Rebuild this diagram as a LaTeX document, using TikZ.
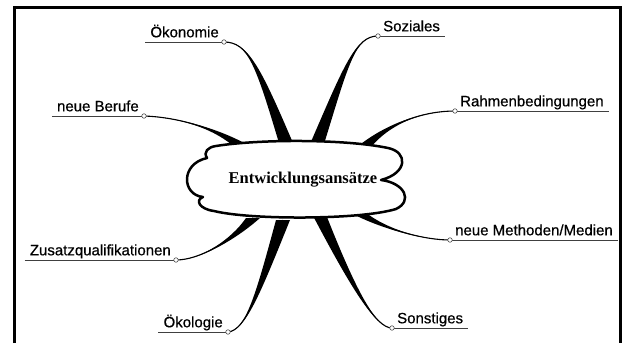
\documentclass[tikz,border=0pt]{standalone}
\usepackage{fontspec}
\setmainfont{Liberation Serif}
\newfontfamily\labfont[FakeBold=0.6]{Liberation Sans}
\usetikzlibrary{calc}
\newcommand\mmbranch[5]{%
  \fill (#1) .. controls (#2) and ($(#3)+(0.3*#5,0)$) .. ($(#4)+(#5,0)$) -- ($(#4)-(#5,0)$) .. controls ($(#3)-(0.3*#5,0)$) and (#2) .. (#1) -- cycle;
  \draw[line width=1.1pt] (#1) .. controls (#2) and (#3) .. (#4);}
\begin{document}
\begin{tikzpicture}[x=1pt,y=-1pt,
  lab/.style={font=\labfont\fontsize{15}{18}\selectfont, inner xsep=5pt, inner ysep=4.5pt, text height=11pt, text depth=0pt},
  uline/.style={line width=1pt, draw=black!75},
  knob/.style={circle, draw=black!70, fill=white, line width=0.6pt, inner sep=0pt, minimum size=4.5pt}]
\useasboundingbox (0,0) rectangle (624,343);
\draw[line width=3pt] (14,343) -- (14,7) -- (620,7) -- (620,343);
% labels
\node[lab, anchor=south east] (oek) at (224,42) {Ökonomie};
\node[lab, anchor=south east] (ber) at (144,116) {neue Berufe};
\node[lab, anchor=south east] (zus) at (176,260) {Zusatzqualifikationen};
\node[lab, anchor=south east] (okl) at (228,332) {Ökologie};
\node[lab, anchor=south west] (soz) at (378,36) {Soziales};
\node[lab, anchor=south west] (rah) at (455,111) {Rahmenbedingungen};
\node[lab, anchor=south west] (met) at (450,240) {neue Methoden/Medien};
\node[lab, anchor=south west] (son) at (392,328) {Sonstiges};
% base points on the cloud
\coordinate (bOek) at (286,143);
\coordinate (bBer) at (240,145);
\coordinate (bZus) at (253,218);
\coordinate (bOkl) at (283,220);
\coordinate (bSoz) at (317,144);
\coordinate (bRah) at (364,147);
\coordinate (bMet) at (357,212);
\coordinate (bSon) at (318,212);
% branches
\mmbranch{oek.south east}{248,42}{258,66}{bOek}{7}
\mmbranch{ber.south east}{175,117}{213,127}{bBer}{8}
\mmbranch{zus.south east}{200,260}{233,240}{bZus}{7}
\mmbranch{okl.south east}{246,330}{258,294}{bOkl}{7}
\mmbranch{soz.south west}{355,36}{346,66}{bSoz}{7}
\mmbranch{rah.south west}{425,111}{390,122}{bRah}{7}
\mmbranch{met.south west}{425,240}{385,230}{bMet}{8}
\mmbranch{son.south west}{375,328}{352,286}{bSon}{7}
% underlines and knobs
\foreach \n in {oek,ber,zus,okl,soz,rah,met,son}{\draw[uline] (\n.south west) -- (\n.south east);}
\foreach \n/\a in {oek/south east,ber/south east,zus/south east,okl/south east,soz/south west,rah/south west,met/south west,son/south west}{\node[knob] (k\n) at (\n.\a) {};}
% cloud
\draw[line width=2.5pt, fill=white, line join=round]
  (216,146) .. controls (260,139) and (345,139) .. (388,148)
  .. controls (408,152) and (408,173) .. (381,180)
  .. controls (405,183) and (413,201) .. (396,209)
  .. controls (360,220) and (250,220) .. (214,211)
  .. controls (199,209) and (195,200) .. (203,197)
  .. controls (182,195) and (180,164) .. (207,158)
  .. controls (203,152) and (208,147) .. (216,146) -- cycle;
\node[font=\bfseries\fontsize{16.5}{20}\selectfont] (center) at (303,180) {Entwicklungsansätze};
\end{tikzpicture}
\end{document}
